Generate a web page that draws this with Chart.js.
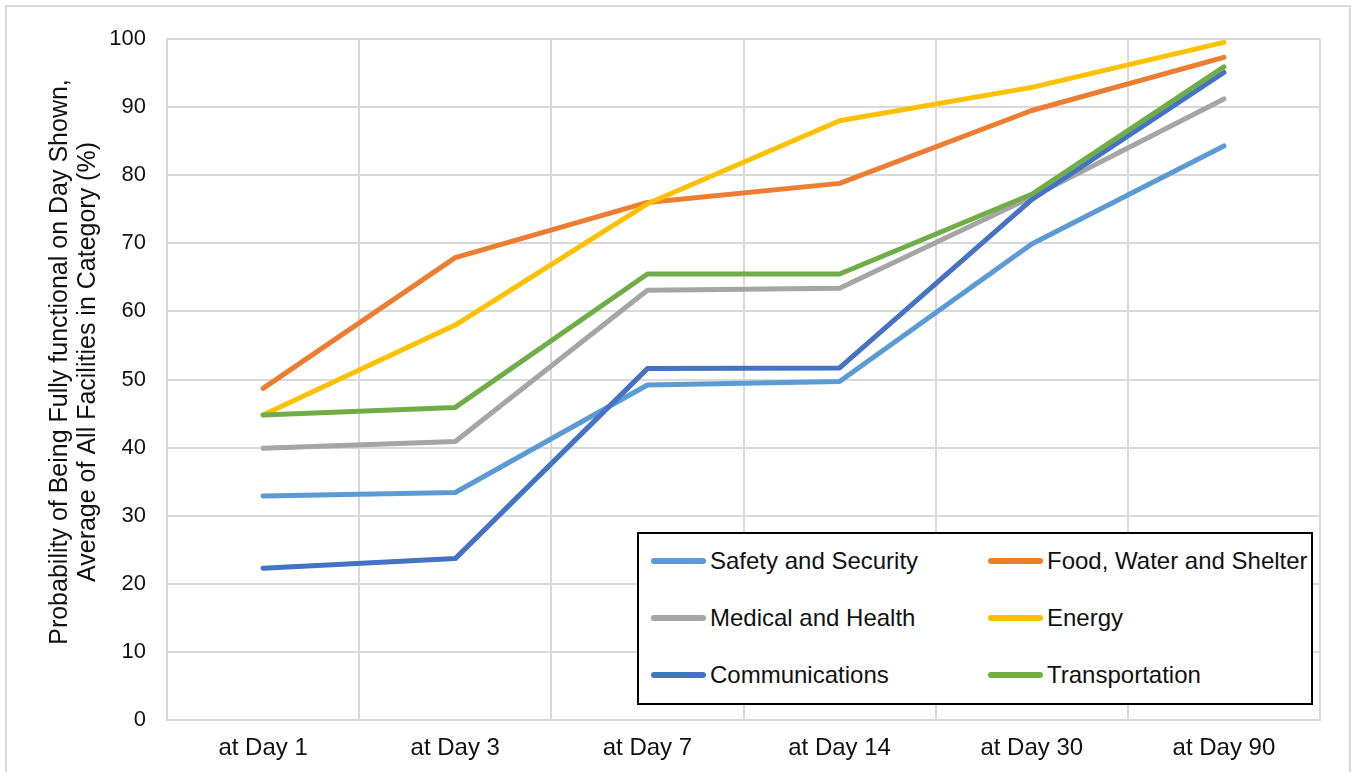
<!DOCTYPE html>
<html>
<head>
<meta charset="utf-8">
<script src="https://cdn.jsdelivr.net/npm/chart.js@4.4.1/dist/chart.umd.min.js"></script>
<style>
  body { margin: 0; background: #fff; font-family: "Liberation Sans", Arial, sans-serif; }
  #wrap { position: relative; width: 1351px; height: 772px; overflow: hidden; }
  #frame { position: absolute; left: 5px; top: 5px; width: 1346px; height: 780px; border: 2px solid #d9d9d9; box-sizing: border-box; pointer-events: none; }
  #legend { position: absolute; left: 637px; top: 532px; width: 676px; height: 173px; border: 2px solid #000; box-sizing: border-box; background: #fff; }
  .item { position: absolute; display: flex; align-items: center; height: 30px; font-size: 24px; color: #111; white-space: nowrap; }
  .swatch { width: 55px; height: 6px; border-radius: 3px; margin-right: 4px; }
</style>
</head>
<body>
<div id="wrap">
  <canvas id="chart" width="1351" height="772"></canvas>
  <div id="frame"></div>
  <div id="legend"></div>
</div>
<script>
// Categories and series
const days = ['at Day 1', 'at Day 3', 'at Day 7', 'at Day 14', 'at Day 30', 'at Day 90'];
const seriesNames = ['Safety and Security', 'Food, Water and Shelter', 'Medical and Health', 'Energy', 'Communications', 'Transportation'];
const safety = [32.9, 33.4, 49.2, 49.7, 69.9, 84.3];
const food = [48.7, 67.9, 76.0, 78.8, 89.5, 97.3];
const medical = [39.9, 40.9, 63.1, 63.4, 76.8, 91.2];
const energy = [44.8, 58.0, 75.8, 88.0, 92.9, 99.5];
const comms = [22.3, 23.7, 51.6, 51.7, 76.4, 95.1];
const transport = [44.8, 45.9, 65.5, 65.5, 77.2, 95.9];
const colors = ['#5B9BD5', '#ED7D31', '#A5A5A5', '#FFC000', '#4472C4', '#70AD47'];
const yTitle = ['Probability of Being Fully functional on Day Shown,', 'Average of All Facilities in Category (%)'];

const seriesValues = [safety, food, medical, energy, comms, transport];
const gridColor = '#d9d9d9';

// Y axis title, centred on the plot like the Excel original
const yTitlePlugin = {
    id: 'yTitle',
    afterDraw(chart) {
        const ctx = chart.ctx;
        ctx.save();
        ctx.translate(60, 362);
        ctx.rotate(-Math.PI / 2);
        ctx.font = '25px "Liberation Sans", Arial, sans-serif';
        ctx.fillStyle = '#111';
        ctx.textAlign = 'center';
        ctx.textBaseline = 'middle';
        yTitle.forEach((line, i) => ctx.fillText(line, 0, i * 28));
        ctx.restore();
    }
};

const datasets = seriesNames.map((name, i) => ({
    label: name,
    data: seriesValues[i],
    borderColor: colors[i],
    backgroundColor: colors[i],
    borderWidth: 5,
    borderCapStyle: 'round',
    borderJoinStyle: 'round',
    pointRadius: 0,
    tension: 0,
    fill: false,
    order: seriesNames.length - i  // later series on top, as in Excel
}));

new Chart(document.getElementById('chart'), {
    type: 'line',
    data: { labels: days, datasets: datasets },
    options: {
        responsive: false,
        animation: false,
        events: [],
        layout: { padding: { left: 5, top: 39, right: 31, bottom: 0 } },
        plugins: {
            legend: { display: false },
            tooltip: { enabled: false }
        },
        scales: {
            x: {
                offset: true,
                grid: { offset: true, color: gridColor, lineWidth: 2, drawTicks: false },
                border: { color: gridColor, width: 2 },
                ticks: {
                    padding: 14,
                    color: '#111',
                    font: { family: '"Liberation Sans", Arial, sans-serif', size: 24 }
                },
                afterFit: (scale) => { scale.height = 52; }
            },
            y: {
                min: 0,
                max: 100,
                grid: { color: gridColor, lineWidth: 2, drawTicks: false },
                border: { color: gridColor, width: 2 },
                ticks: {
                    stepSize: 10,
                    padding: 21,
                    color: '#111',
                    font: { family: '"Liberation Sans", Arial, sans-serif', size: 22 }
                },
                afterFit: (scale) => { scale.width = 162; }
            }
        }
    },
    plugins: [yTitlePlugin]
});

// HTML legend built from the same series arrays
const legend = document.getElementById('legend');
seriesNames.forEach((name, i) => {
    const col = i % 2;
    const row = Math.floor(i / 2);
    const item = document.createElement('div');
    item.className = 'item';
    item.style.left = (col ? 349 : 12) + 'px';
    item.style.top = (12 + row * 57) + 'px';
    item.innerHTML = `<span class="swatch" style="background:${colors[i]}"></span><span>${name}</span>`;
    legend.appendChild(item);
});
</script>
</body>
</html>
